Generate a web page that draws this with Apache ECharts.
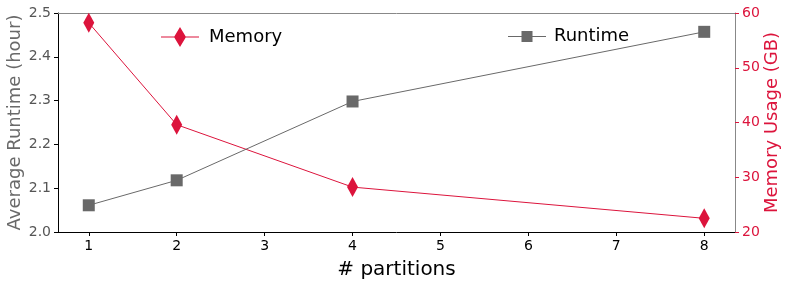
<!DOCTYPE html>
<html><head><meta charset="utf-8">
<script src="https://cdn.jsdelivr.net/npm/echarts@6/dist/echarts.min.js"></script>
<style>html,body{margin:0;padding:0;background:#fff}#c{width:789px;height:284px}</style>
</head><body><div id="c"></div>
<script>
const partitions = [1, 2, 4, 8];
const runtime = [2.061, 2.118, 2.298, 2.457];
const memory = [58.2, 39.6, 28.2, 22.5];
const xTicks = [1, 2, 3, 4, 5, 6, 7, 8];
const leftTicks = [2.0, 2.1, 2.2, 2.3, 2.4, 2.5];
const rightTicks = [20, 30, 40, 50, 60];

const RED = '#DC143C', GREY = '#696969';
const FONT = 'DejaVu Sans';
const chart = echarts.init(document.getElementById('c'), null, {renderer: 'canvas'});
chart.setOption({
  animation: false,
  textStyle: {fontFamily: FONT},
  grid: {left: 58, right: 54, top: 13, bottom: 52, outerBoundsMode: 'none', containLabel: false},
  legend: [
    {data: [{name: 'Memory', icon: 'path://M0 9.5H38V10.5H0Z M13 10L19 0L25 10L19 20Z', itemStyle: {color: RED}}],
     left: 156, top: 22, itemWidth: 38, itemHeight: 20, itemGap: 10,
     textStyle: {fontFamily: FONT, fontSize: 18, color: '#000', padding: [0, 0, 0, 5]}},
    {data: [{name: 'Runtime', icon: 'path://M0 5H38V6H0Z M13.5 0H24.5V11H13.5Z', itemStyle: {color: GREY}}],
     left: 503, top: 22.5, itemWidth: 38, itemHeight: 11, itemGap: 10,
     textStyle: {fontFamily: FONT, fontSize: 18, color: '#000', padding: [0, 0, 0, 3]}}
  ],
  xAxis: [{
    type: 'value', min: 0.65, max: 8.35,
    name: '# partitions', nameLocation: 'middle', nameGap: 28, nameMoveOverlap: false,
    nameTextStyle: {fontFamily: FONT, fontSize: 20, color: '#000'},
    axisLine: {lineStyle: {color: '#000', width: 1}},
    axisTick: {customValues: xTicks, length: 4, lineStyle: {color: '#000'}},
    axisLabel: {customValues: xTicks, fontFamily: FONT, fontSize: 14, color: '#000', margin: 7},
    splitLine: {show: false}
  }, {
    type: 'value', position: 'top', min: 0.65, max: 8.35,
    axisLine: {show: true, lineStyle: {color: '#888', width: 1}},
    axisTick: {show: false}, axisLabel: {show: false}, splitLine: {show: false}
  }],
  yAxis: [{
    type: 'value', min: 2.0, max: 2.5, interval: 0.1, position: 'left',
    name: 'Average Runtime (hour)', nameLocation: 'middle', nameGap: 34, nameMoveOverlap: false,
    nameTextStyle: {fontFamily: FONT, fontSize: 18, color: GREY},
    axisLine: {show: true, lineStyle: {color: '#000', width: 1}},
    axisTick: {show: true, length: 4, lineStyle: {color: '#000'}},
    axisLabel: {fontFamily: FONT, fontSize: 14, color: '#555', margin: 7,
      formatter: v => v.toFixed(1)},
    splitLine: {show: false}
  }, {
    type: 'value', min: 20, max: 60, interval: 10, position: 'right',
    name: 'Memory Usage (GB)', nameLocation: 'middle', nameGap: 28, nameRotate: 90, nameMoveOverlap: false,
    nameTextStyle: {fontFamily: FONT, fontSize: 18, color: RED},
    axisLine: {show: true, lineStyle: {color: '#888', width: 1}},
    axisTick: {show: true, length: 4, lineStyle: {color: RED}},
    axisLabel: {fontFamily: FONT, fontSize: 14, color: RED, margin: 7},
    splitLine: {show: false}
  }],
  series: [{
    name: 'Memory', type: 'line', yAxisIndex: 1,
    data: partitions.map((p, i) => [p, memory[i]]),
    symbol: 'diamond', symbolSize: [11, 20],
    lineStyle: {color: RED, width: 1}, itemStyle: {color: RED}
  }, {
    name: 'Runtime', type: 'line', yAxisIndex: 0,
    data: partitions.map((p, i) => [p, runtime[i]]),
    symbol: 'rect', symbolSize: 12,
    lineStyle: {color: GREY, width: 1}, itemStyle: {color: GREY}
  }]
});
</script></body></html>
